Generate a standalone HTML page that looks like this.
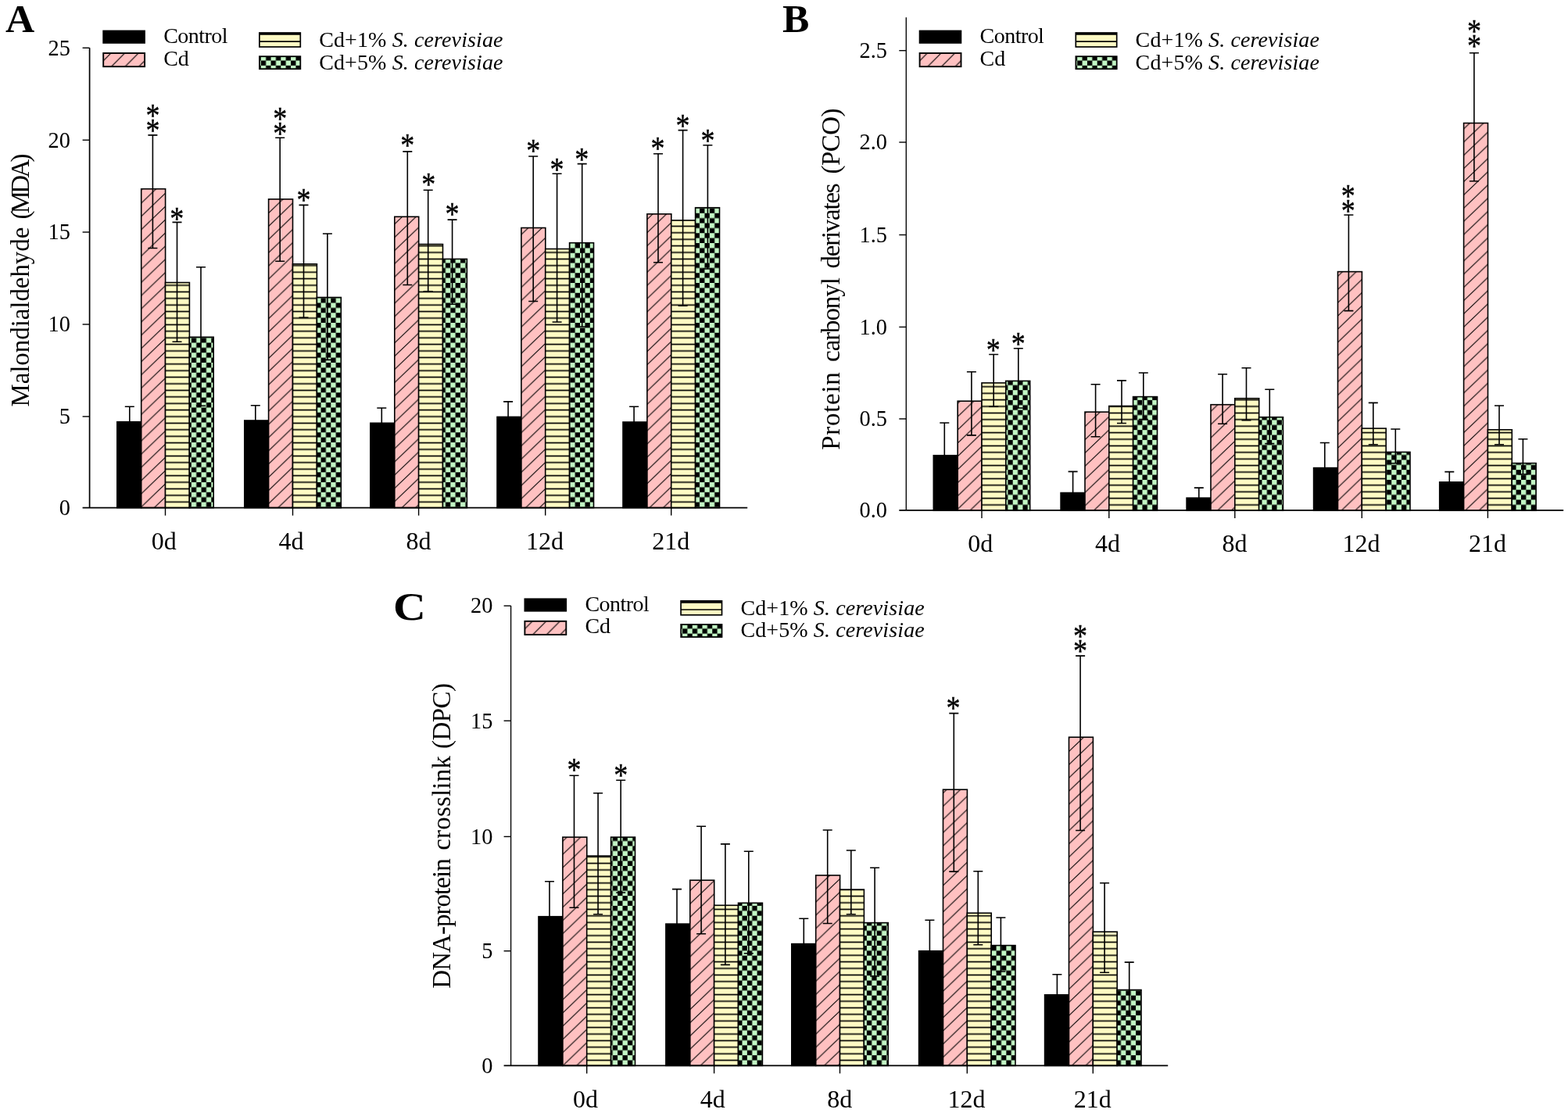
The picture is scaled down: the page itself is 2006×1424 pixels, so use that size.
<!DOCTYPE html>
<html lang="en"><head><meta charset="utf-8"><title>Oxidative damage markers: MDA, PCO and DPC</title>
<style>html,body{margin:0;padding:0;background:#fff}body{width:2006px;height:1424px}svg{display:block}text{font-family:'Liberation Serif', 'DejaVu Serif', serif;fill:#000}</style>
</head><body>
<svg width="2006" height="1424" viewBox="0 0 2006 1424">
<defs>
<pattern id="hpA" patternUnits="userSpaceOnUse" width="17.6" height="16.9" x="5.60" y="5.60"><path d="M-17.60 16.90L35.20 -33.80M-17.60 33.80L35.20 -16.90M-17.60 50.70L35.20 0.00" stroke="#000" stroke-width="1.05" fill="none"/></pattern>
<pattern id="hyA" patternUnits="userSpaceOnUse" width="8.4" height="8.4" x="0" y="8.00"><path d="M-1 4.20H9.40" stroke="#000" stroke-width="1.7" fill="none"/></pattern>
<pattern id="hgA" patternUnits="userSpaceOnUse" width="12.75" height="12.75" x="2.55" y="5.00"><rect x="0" y="0" width="6.375" height="6.375" fill="#C3F7C5"/><rect x="6.375" y="6.375" width="6.375" height="6.375" fill="#C3F7C5"/></pattern>
<pattern id="hplA" patternUnits="userSpaceOnUse" width="17.6" height="17.6" x="2.20" y="14.20"><path d="M-17.60 17.60L35.20 -35.20M-17.60 35.20L35.20 -17.60M-17.60 52.80L35.20 0.00" stroke="#000" stroke-width="1.2" fill="none"/></pattern>
<pattern id="hglA" patternUnits="userSpaceOnUse" width="12.75" height="12.75" x="2.30" y="7.35"><rect x="0" y="0" width="6.375" height="6.375" fill="#C3F7C5"/><rect x="6.375" y="6.375" width="6.375" height="6.375" fill="#C3F7C5"/></pattern>
<pattern id="hpB" patternUnits="userSpaceOnUse" width="17.6" height="16.9" x="8.60" y="11.30"><path d="M-17.60 16.90L35.20 -33.80M-17.60 33.80L35.20 -16.90M-17.60 50.70L35.20 0.00" stroke="#000" stroke-width="1.05" fill="none"/></pattern>
<pattern id="hyB" patternUnits="userSpaceOnUse" width="8.4" height="8.4" x="0" y="3.40"><path d="M-1 4.20H9.40" stroke="#000" stroke-width="1.7" fill="none"/></pattern>
<pattern id="hgB" patternUnits="userSpaceOnUse" width="12.75" height="12.75" x="7.95" y="1.90"><rect x="0" y="0" width="6.375" height="6.375" fill="#C3F7C5"/><rect x="6.375" y="6.375" width="6.375" height="6.375" fill="#C3F7C5"/></pattern>
<pattern id="hplB" patternUnits="userSpaceOnUse" width="17.6" height="17.6" x="8.20" y="14.20"><path d="M-17.60 17.60L35.20 -35.20M-17.60 35.20L35.20 -17.60M-17.60 52.80L35.20 0.00" stroke="#000" stroke-width="1.2" fill="none"/></pattern>
<pattern id="hglB" patternUnits="userSpaceOnUse" width="12.75" height="12.75" x="1.20" y="7.35"><rect x="0" y="0" width="6.375" height="6.375" fill="#C3F7C5"/><rect x="6.375" y="6.375" width="6.375" height="6.375" fill="#C3F7C5"/></pattern>
<pattern id="hpC" patternUnits="userSpaceOnUse" width="17.6" height="16.9" x="16.90" y="10.60"><path d="M-17.60 16.90L35.20 -33.80M-17.60 33.80L35.20 -16.90M-17.60 50.70L35.20 0.00" stroke="#000" stroke-width="1.05" fill="none"/></pattern>
<pattern id="hyC" patternUnits="userSpaceOnUse" width="8.4" height="8.4" x="0" y="8.40"><path d="M-1 4.20H9.40" stroke="#000" stroke-width="1.7" fill="none"/></pattern>
<pattern id="hgC" patternUnits="userSpaceOnUse" width="12.75" height="12.75" x="12.35" y="11.40"><rect x="0" y="0" width="6.375" height="6.375" fill="#C3F7C5"/><rect x="6.375" y="6.375" width="6.375" height="6.375" fill="#C3F7C5"/></pattern>
<pattern id="hplC" patternUnits="userSpaceOnUse" width="17.6" height="17.6" x="13.40" y="1.80"><path d="M-17.60 17.60L35.20 -35.20M-17.60 35.20L35.20 -17.60M-17.60 52.80L35.20 0.00" stroke="#000" stroke-width="1.2" fill="none"/></pattern>
<pattern id="hglC" patternUnits="userSpaceOnUse" width="12.75" height="12.75" x="6.00" y="7.40"><rect x="0" y="0" width="6.375" height="6.375" fill="#C3F7C5"/><rect x="6.375" y="6.375" width="6.375" height="6.375" fill="#C3F7C5"/></pattern>
</defs>
<rect width="2006" height="1424" fill="#fff"/>
<g id="panelA">
<rect x="149.8" y="539.7" width="30.9" height="109.9" fill="#000" stroke="#000" stroke-width="1.6"/>
<rect x="180.7" y="241.7" width="30.9" height="407.9" fill="#FFC1C1"/>
<rect x="180.7" y="241.7" width="30.9" height="407.9" fill="url(#hpA)" stroke="#000" stroke-width="1.6"/>
<rect x="211.5" y="361.5" width="30.9" height="288.1" fill="#FFFBC4"/>
<rect x="211.5" y="361.5" width="30.9" height="288.1" fill="url(#hyA)" stroke="#000" stroke-width="1.6"/>
<rect x="242.3" y="431.3" width="30.9" height="218.3" fill="#000"/>
<rect x="242.3" y="431.3" width="30.9" height="218.3" fill="url(#hgA)" stroke="#000" stroke-width="1.6"/>
<rect x="312.8" y="538.0" width="30.9" height="111.6" fill="#000" stroke="#000" stroke-width="1.6"/>
<rect x="343.6" y="254.8" width="30.9" height="394.8" fill="#FFC1C1"/>
<rect x="343.6" y="254.8" width="30.9" height="394.8" fill="url(#hpA)" stroke="#000" stroke-width="1.6"/>
<rect x="374.5" y="337.8" width="30.9" height="311.8" fill="#FFFBC4"/>
<rect x="374.5" y="337.8" width="30.9" height="311.8" fill="url(#hyA)" stroke="#000" stroke-width="1.6"/>
<rect x="405.4" y="380.5" width="30.9" height="269.1" fill="#000"/>
<rect x="405.4" y="380.5" width="30.9" height="269.1" fill="url(#hgA)" stroke="#000" stroke-width="1.6"/>
<rect x="473.9" y="541.3" width="30.9" height="108.3" fill="#000" stroke="#000" stroke-width="1.6"/>
<rect x="504.8" y="277.3" width="30.9" height="372.3" fill="#FFC1C1"/>
<rect x="504.8" y="277.3" width="30.9" height="372.3" fill="url(#hpA)" stroke="#000" stroke-width="1.6"/>
<rect x="535.6" y="312.5" width="30.9" height="337.1" fill="#FFFBC4"/>
<rect x="535.6" y="312.5" width="30.9" height="337.1" fill="url(#hyA)" stroke="#000" stroke-width="1.6"/>
<rect x="566.5" y="331.4" width="30.9" height="318.2" fill="#000"/>
<rect x="566.5" y="331.4" width="30.9" height="318.2" fill="url(#hgA)" stroke="#000" stroke-width="1.6"/>
<rect x="636.0" y="533.4" width="30.9" height="116.2" fill="#000" stroke="#000" stroke-width="1.6"/>
<rect x="666.9" y="291.5" width="30.9" height="358.1" fill="#FFC1C1"/>
<rect x="666.9" y="291.5" width="30.9" height="358.1" fill="url(#hpA)" stroke="#000" stroke-width="1.6"/>
<rect x="697.7" y="318.5" width="30.9" height="331.1" fill="#FFFBC4"/>
<rect x="697.7" y="318.5" width="30.9" height="331.1" fill="url(#hyA)" stroke="#000" stroke-width="1.6"/>
<rect x="728.6" y="310.7" width="30.9" height="338.9" fill="#000"/>
<rect x="728.6" y="310.7" width="30.9" height="338.9" fill="url(#hgA)" stroke="#000" stroke-width="1.6"/>
<rect x="797.0" y="540.0" width="30.9" height="109.6" fill="#000" stroke="#000" stroke-width="1.6"/>
<rect x="827.9" y="273.8" width="30.9" height="375.8" fill="#FFC1C1"/>
<rect x="827.9" y="273.8" width="30.9" height="375.8" fill="url(#hpA)" stroke="#000" stroke-width="1.6"/>
<rect x="858.7" y="281.9" width="30.9" height="367.7" fill="#FFFBC4"/>
<rect x="858.7" y="281.9" width="30.9" height="367.7" fill="url(#hyA)" stroke="#000" stroke-width="1.6"/>
<rect x="889.6" y="265.7" width="30.9" height="383.9" fill="#000"/>
<rect x="889.6" y="265.7" width="30.9" height="383.9" fill="url(#hgA)" stroke="#000" stroke-width="1.6"/>
<path d="M165.8 520.2V557.6M159.8 520.2H171.8M159.8 557.6H171.8" stroke="#000" stroke-width="1.6" fill="none"/>
<path d="M195.4 172.9V317.5M189.4 172.9H201.4M189.4 317.5H201.4" stroke="#000" stroke-width="1.6" fill="none"/>
<text transform="translate(195.4 142.4) scale(1 1.17)" x="0" y="16.97" font-size="36" stroke="#000" stroke-width="0.35" text-anchor="middle">*</text>
<text transform="translate(195.4 161.3) scale(1 1.17)" x="0" y="16.97" font-size="36" stroke="#000" stroke-width="0.35" text-anchor="middle">*</text>
<path d="M226.5 284.4V437.3M220.5 284.4H232.5M220.5 437.3H232.5" stroke="#000" stroke-width="1.6" fill="none"/>
<text transform="translate(226.2 273.8) scale(1 1.17)" x="0" y="16.97" font-size="36" stroke="#000" stroke-width="0.35" text-anchor="middle">*</text>
<path d="M257.0 341.8V519.2M251.0 341.8H263.0M251.0 519.2H263.0" stroke="#000" stroke-width="1.6" fill="none"/>
<path d="M326.8 518.7V555.7M320.8 518.7H332.8M320.8 555.7H332.8" stroke="#000" stroke-width="1.6" fill="none"/>
<path d="M358.2 176.2V334.2M352.2 176.2H364.2M352.2 334.2H364.2" stroke="#000" stroke-width="1.6" fill="none"/>
<text transform="translate(358.2 146.1) scale(1 1.17)" x="0" y="16.97" font-size="36" stroke="#000" stroke-width="0.35" text-anchor="middle">*</text>
<text transform="translate(358.2 165.6) scale(1 1.17)" x="0" y="16.97" font-size="36" stroke="#000" stroke-width="0.35" text-anchor="middle">*</text>
<path d="M388.5 262.4V406.2M382.5 262.4H394.5M382.5 406.2H394.5" stroke="#000" stroke-width="1.6" fill="none"/>
<text transform="translate(388.5 250.3) scale(1 1.17)" x="0" y="16.97" font-size="36" stroke="#000" stroke-width="0.35" text-anchor="middle">*</text>
<path d="M418.9 299.0V460.4M412.9 299.0H424.9M412.9 460.4H424.9" stroke="#000" stroke-width="1.6" fill="none"/>
<path d="M488.3 522.0V559.0M482.3 522.0H494.3M482.3 559.0H494.3" stroke="#000" stroke-width="1.6" fill="none"/>
<path d="M521.3 193.9V364.5M515.3 193.9H527.3M515.3 364.5H527.3" stroke="#000" stroke-width="1.6" fill="none"/>
<text transform="translate(521.2 180.5) scale(1 1.17)" x="0" y="16.97" font-size="36" stroke="#000" stroke-width="0.35" text-anchor="middle">*</text>
<path d="M547.7 243.2V372.9M541.7 243.2H553.7M541.7 372.9H553.7" stroke="#000" stroke-width="1.6" fill="none"/>
<text transform="translate(548.3 230.5) scale(1 1.17)" x="0" y="16.97" font-size="36" stroke="#000" stroke-width="0.35" text-anchor="middle">*</text>
<path d="M578.6 281.1V389.3M572.6 281.1H584.6M572.6 389.3H584.6" stroke="#000" stroke-width="1.6" fill="none"/>
<text transform="translate(578.6 268.5) scale(1 1.17)" x="0" y="16.97" font-size="36" stroke="#000" stroke-width="0.35" text-anchor="middle">*</text>
<path d="M650.1 513.9V551.3M644.1 513.9H656.1M644.1 551.3H656.1" stroke="#000" stroke-width="1.6" fill="none"/>
<path d="M682.2 200.0V385.5M676.2 200.0H688.2M676.2 385.5H688.2" stroke="#000" stroke-width="1.6" fill="none"/>
<text transform="translate(682.2 187.1) scale(1 1.17)" x="0" y="16.97" font-size="36" stroke="#000" stroke-width="0.35" text-anchor="middle">*</text>
<path d="M712.6 222.2V412.0M706.6 222.2H718.6M706.6 412.0H718.6" stroke="#000" stroke-width="1.6" fill="none"/>
<text transform="translate(712.6 211.1) scale(1 1.17)" x="0" y="16.97" font-size="36" stroke="#000" stroke-width="0.35" text-anchor="middle">*</text>
<path d="M744.7 209.6V418.0M738.7 209.6H750.7M738.7 418.0H750.7" stroke="#000" stroke-width="1.6" fill="none"/>
<text transform="translate(744.2 198.4) scale(1 1.17)" x="0" y="16.97" font-size="36" stroke="#000" stroke-width="0.35" text-anchor="middle">*</text>
<path d="M811.1 520.2V558.2M805.1 520.2H817.1M805.1 558.2H817.1" stroke="#000" stroke-width="1.6" fill="none"/>
<path d="M842.0 196.7V335.7M836.0 196.7H848.0M836.0 335.7H848.0" stroke="#000" stroke-width="1.6" fill="none"/>
<text transform="translate(841.5 183.8) scale(1 1.17)" x="0" y="16.97" font-size="36" stroke="#000" stroke-width="0.35" text-anchor="middle">*</text>
<path d="M873.6 166.6V391.3M867.6 166.6H879.6M867.6 391.3H879.6" stroke="#000" stroke-width="1.6" fill="none"/>
<text transform="translate(873.6 154.7) scale(1 1.17)" x="0" y="16.97" font-size="36" stroke="#000" stroke-width="0.35" text-anchor="middle">*</text>
<path d="M905.4 185.8V344.0M899.4 185.8H911.4M899.4 344.0H911.4" stroke="#000" stroke-width="1.6" fill="none"/>
<text transform="translate(905.4 174.4) scale(1 1.17)" x="0" y="16.97" font-size="36" stroke="#000" stroke-width="0.35" text-anchor="middle">*</text>
<path d="M114.6 61.3V649.6" stroke="#000" stroke-width="1.7" fill="none"/>
<path d="M105.6 649.6H956.2" stroke="#000" stroke-width="1.7" fill="none"/>
<path d="M105.6 61.3H114.6" stroke="#000" stroke-width="1.4" fill="none"/>
<text transform="translate(90.0 70.6) scale(1 1.02)" font-size="28.4" text-anchor="end">25</text>
<path d="M105.6 179.2H114.6" stroke="#000" stroke-width="1.4" fill="none"/>
<text transform="translate(90.0 188.5) scale(1 1.02)" font-size="28.4" text-anchor="end">20</text>
<path d="M105.6 297.0H114.6" stroke="#000" stroke-width="1.4" fill="none"/>
<text transform="translate(90.0 306.3) scale(1 1.02)" font-size="28.4" text-anchor="end">15</text>
<path d="M105.6 415.0H114.6" stroke="#000" stroke-width="1.4" fill="none"/>
<text transform="translate(90.0 424.3) scale(1 1.02)" font-size="28.4" text-anchor="end">10</text>
<path d="M105.6 532.9H114.6" stroke="#000" stroke-width="1.4" fill="none"/>
<text transform="translate(90.0 542.2) scale(1 1.02)" font-size="28.4" text-anchor="end">5</text>
<text transform="translate(90.0 658.9) scale(1 1.02)" font-size="28.4" text-anchor="end">0</text>
<path d="M211.5 649.6V659.6" stroke="#000" stroke-width="1.4" fill="none"/>
<text x="209.8" y="702.9" font-size="32" text-anchor="middle">0d</text>
<path d="M374.5 649.6V659.6" stroke="#000" stroke-width="1.4" fill="none"/>
<text x="372.6" y="702.9" font-size="32" text-anchor="middle">4d</text>
<path d="M535.6 649.6V659.6" stroke="#000" stroke-width="1.4" fill="none"/>
<text x="535.4" y="702.9" font-size="32" text-anchor="middle">8d</text>
<path d="M697.7 649.6V659.6" stroke="#000" stroke-width="1.4" fill="none"/>
<text x="697.0" y="702.9" font-size="32" text-anchor="middle">12d</text>
<path d="M858.7 649.6V659.6" stroke="#000" stroke-width="1.4" fill="none"/>
<text x="858.2" y="702.9" font-size="32" text-anchor="middle">21d</text>
<text transform="translate(36.7 520.0) rotate(-90)" font-size="33"><tspan x="-0.6" textLength="230.0" lengthAdjust="spacing">Malondialdehyde</tspan> <tspan x="239.6" textLength="83.9" lengthAdjust="spacing">(MDA)</tspan></text>
<text x="7.0" y="41.3" font-size="51.5" font-weight="bold">A</text>
<rect x="131.3" y="38.6" width="54.6" height="17.2" fill="#000"/>
<rect x="132.2" y="68.0" width="52.9" height="17.2" fill="#FFC1C1"/>
<rect x="132.2" y="68.0" width="52.9" height="17.2" fill="url(#hplA)" stroke="#000" stroke-width="1.9"/>
<rect x="331.9" y="42.0" width="52.4" height="18" fill="#FFFBC4" stroke="#000" stroke-width="1.7"/>
<path d="M331.9 43.5h52.4" stroke="#000" stroke-width="2.7"/>
<path d="M331.9 53.2h52.4" stroke="#000" stroke-width="1.7"/>
<rect x="332.0" y="72.2" width="52.3" height="16" fill="#000"/>
<rect x="332.0" y="72.2" width="52.3" height="16" fill="url(#hglA)" stroke="#000" stroke-width="1.8"/>
<text x="209.2" y="54.9" font-size="28" textLength="82.3" lengthAdjust="spacing">Control</text>
<text x="209.2" y="83.6" font-size="28">Cd</text>
<text x="408.2" y="60.1" font-size="28" textLength="235.3" lengthAdjust="spacing">Cd+1% <tspan font-style="italic">S. cerevisiae</tspan></text>
<text x="408.2" y="88.6" font-size="28" textLength="235.3" lengthAdjust="spacing">Cd+5% <tspan font-style="italic">S. cerevisiae</tspan></text>
</g>
<g id="panelB">
<rect x="1194.3" y="582.7" width="30.9" height="70.2" fill="#000" stroke="#000" stroke-width="1.6"/>
<rect x="1225.2" y="513.2" width="30.9" height="139.7" fill="#FFC1C1"/>
<rect x="1225.2" y="513.2" width="30.9" height="139.7" fill="url(#hpB)" stroke="#000" stroke-width="1.6"/>
<rect x="1256.0" y="489.9" width="30.9" height="163.0" fill="#FFFBC4"/>
<rect x="1256.0" y="489.9" width="30.9" height="163.0" fill="url(#hyB)" stroke="#000" stroke-width="1.6"/>
<rect x="1286.8" y="487.4" width="30.9" height="165.5" fill="#000"/>
<rect x="1286.8" y="487.4" width="30.9" height="165.5" fill="url(#hgB)" stroke="#000" stroke-width="1.6"/>
<rect x="1357.1" y="630.5" width="30.9" height="22.4" fill="#000" stroke="#000" stroke-width="1.6"/>
<rect x="1388.0" y="527.1" width="30.9" height="125.8" fill="#FFC1C1"/>
<rect x="1388.0" y="527.1" width="30.9" height="125.8" fill="url(#hpB)" stroke="#000" stroke-width="1.6"/>
<rect x="1418.8" y="519.5" width="30.9" height="133.4" fill="#FFFBC4"/>
<rect x="1418.8" y="519.5" width="30.9" height="133.4" fill="url(#hyB)" stroke="#000" stroke-width="1.6"/>
<rect x="1449.6" y="507.6" width="30.9" height="145.3" fill="#000"/>
<rect x="1449.6" y="507.6" width="30.9" height="145.3" fill="url(#hgB)" stroke="#000" stroke-width="1.6"/>
<rect x="1518.1" y="637.1" width="30.9" height="15.8" fill="#000" stroke="#000" stroke-width="1.6"/>
<rect x="1549.0" y="517.7" width="30.9" height="135.2" fill="#FFC1C1"/>
<rect x="1549.0" y="517.7" width="30.9" height="135.2" fill="url(#hpB)" stroke="#000" stroke-width="1.6"/>
<rect x="1579.8" y="509.7" width="30.9" height="143.2" fill="#FFFBC4"/>
<rect x="1579.8" y="509.7" width="30.9" height="143.2" fill="url(#hyB)" stroke="#000" stroke-width="1.6"/>
<rect x="1610.6" y="533.7" width="30.9" height="119.2" fill="#000"/>
<rect x="1610.6" y="533.7" width="30.9" height="119.2" fill="url(#hgB)" stroke="#000" stroke-width="1.6"/>
<rect x="1680.6" y="598.6" width="30.9" height="54.3" fill="#000" stroke="#000" stroke-width="1.6"/>
<rect x="1711.5" y="347.6" width="30.9" height="305.3" fill="#FFC1C1"/>
<rect x="1711.5" y="347.6" width="30.9" height="305.3" fill="url(#hpB)" stroke="#000" stroke-width="1.6"/>
<rect x="1742.3" y="548.1" width="30.9" height="104.8" fill="#FFFBC4"/>
<rect x="1742.3" y="548.1" width="30.9" height="104.8" fill="url(#hyB)" stroke="#000" stroke-width="1.6"/>
<rect x="1773.1" y="578.4" width="30.9" height="74.5" fill="#000"/>
<rect x="1773.1" y="578.4" width="30.9" height="74.5" fill="url(#hgB)" stroke="#000" stroke-width="1.6"/>
<rect x="1841.7" y="616.8" width="30.9" height="36.1" fill="#000" stroke="#000" stroke-width="1.6"/>
<rect x="1872.6" y="157.5" width="30.9" height="495.4" fill="#FFC1C1"/>
<rect x="1872.6" y="157.5" width="30.9" height="495.4" fill="url(#hpB)" stroke="#000" stroke-width="1.6"/>
<rect x="1903.4" y="549.8" width="30.9" height="103.1" fill="#FFFBC4"/>
<rect x="1903.4" y="549.8" width="30.9" height="103.1" fill="url(#hyB)" stroke="#000" stroke-width="1.6"/>
<rect x="1934.2" y="592.6" width="30.9" height="60.3" fill="#000"/>
<rect x="1934.2" y="592.6" width="30.9" height="60.3" fill="url(#hgB)" stroke="#000" stroke-width="1.6"/>
<path d="M1208.3 541.0V622.8M1202.3 541.0H1214.3M1202.3 622.8H1214.3" stroke="#000" stroke-width="1.6" fill="none"/>
<path d="M1242.9 475.7V556.9M1236.9 475.7H1248.9M1236.9 556.9H1248.9" stroke="#000" stroke-width="1.6" fill="none"/>
<path d="M1271.2 453.5V520.2M1265.2 453.5H1277.2M1265.2 520.2H1277.2" stroke="#000" stroke-width="1.6" fill="none"/>
<text transform="translate(1270.7 442.4) scale(1 1.17)" x="0" y="16.97" font-size="36" stroke="#000" stroke-width="0.35" text-anchor="middle">*</text>
<path d="M1302.8 445.7V522.0M1296.8 445.7H1308.8M1296.8 522.0H1308.8" stroke="#000" stroke-width="1.6" fill="none"/>
<text transform="translate(1302.8 434.3) scale(1 1.17)" x="0" y="16.97" font-size="36" stroke="#000" stroke-width="0.35" text-anchor="middle">*</text>
<path d="M1372.6 603.4V652.9M1366.6 603.4H1378.6M1366.6 652.9H1378.6" stroke="#000" stroke-width="1.6" fill="none"/>
<path d="M1401.6 491.7V558.7M1395.6 491.7H1407.6M1395.6 558.7H1407.6" stroke="#000" stroke-width="1.6" fill="none"/>
<path d="M1435.0 486.9V541.5M1429.0 486.9H1441.0M1429.0 541.5H1441.0" stroke="#000" stroke-width="1.6" fill="none"/>
<path d="M1462.8 477.0V536.6M1456.8 477.0H1468.8M1456.8 536.6H1468.8" stroke="#000" stroke-width="1.6" fill="none"/>
<path d="M1533.8 624.1V648.5M1527.8 624.1H1539.8M1527.8 648.5H1539.8" stroke="#000" stroke-width="1.6" fill="none"/>
<path d="M1564.1 478.8V542.2M1558.1 478.8H1570.1M1558.1 542.2H1570.1" stroke="#000" stroke-width="1.6" fill="none"/>
<path d="M1594.5 470.7V537.7M1588.5 470.7H1600.5M1588.5 537.7H1600.5" stroke="#000" stroke-width="1.6" fill="none"/>
<path d="M1624.3 498.2V567.6M1618.3 498.2H1630.3M1618.3 567.6H1630.3" stroke="#000" stroke-width="1.6" fill="none"/>
<path d="M1694.8 566.5V629.1M1688.8 566.5H1700.8M1688.8 629.1H1700.8" stroke="#000" stroke-width="1.6" fill="none"/>
<path d="M1725.4 275.0V397.6M1719.4 275.0H1731.4M1719.4 397.6H1731.4" stroke="#000" stroke-width="1.6" fill="none"/>
<text transform="translate(1724.7 244.7) scale(1 1.17)" x="0" y="16.97" font-size="36" stroke="#000" stroke-width="0.35" text-anchor="middle">*</text>
<text transform="translate(1724.7 264.2) scale(1 1.17)" x="0" y="16.97" font-size="36" stroke="#000" stroke-width="0.35" text-anchor="middle">*</text>
<path d="M1756.8 515.4V568.8M1750.8 515.4H1762.8M1750.8 568.8H1762.8" stroke="#000" stroke-width="1.6" fill="none"/>
<path d="M1785.3 549.0V592.8M1779.3 549.0H1791.3M1779.3 592.8H1791.3" stroke="#000" stroke-width="1.6" fill="none"/>
<path d="M1854.3 603.6V628.4M1848.3 603.6H1860.3M1848.3 628.4H1860.3" stroke="#000" stroke-width="1.6" fill="none"/>
<path d="M1885.9 67.7V231.8M1879.9 67.7H1891.9M1879.9 231.8H1891.9" stroke="#000" stroke-width="1.6" fill="none"/>
<text transform="translate(1885.9 34.1) scale(1 1.17)" x="0" y="16.97" font-size="36" stroke="#000" stroke-width="0.35" text-anchor="middle">*</text>
<text transform="translate(1885.9 53.6) scale(1 1.17)" x="0" y="16.97" font-size="36" stroke="#000" stroke-width="0.35" text-anchor="middle">*</text>
<path d="M1918.0 519.0V568.8M1912.0 519.0H1924.0M1912.0 568.8H1924.0" stroke="#000" stroke-width="1.6" fill="none"/>
<path d="M1948.4 561.7V606.7M1942.4 561.7H1954.4M1942.4 606.7H1954.4" stroke="#000" stroke-width="1.6" fill="none"/>
<path d="M1159.3 22.2V652.9" stroke="#000" stroke-width="1.35" fill="none"/>
<path d="M1150.3 652.9H2000.2" stroke="#000" stroke-width="1.7" fill="none"/>
<path d="M1150.3 64.7H1159.3" stroke="#000" stroke-width="1.4" fill="none"/>
<text transform="translate(1135.0 74.0) scale(1 1.02)" font-size="28.4" text-anchor="end">2.5</text>
<path d="M1150.3 182.0H1159.3" stroke="#000" stroke-width="1.4" fill="none"/>
<text transform="translate(1135.0 191.3) scale(1 1.02)" font-size="28.4" text-anchor="end">2.0</text>
<path d="M1150.3 300.5H1159.3" stroke="#000" stroke-width="1.4" fill="none"/>
<text transform="translate(1135.0 309.8) scale(1 1.02)" font-size="28.4" text-anchor="end">1.5</text>
<path d="M1150.3 418.4H1159.3" stroke="#000" stroke-width="1.4" fill="none"/>
<text transform="translate(1135.0 427.7) scale(1 1.02)" font-size="28.4" text-anchor="end">1.0</text>
<path d="M1150.3 535.9H1159.3" stroke="#000" stroke-width="1.4" fill="none"/>
<text transform="translate(1135.0 545.2) scale(1 1.02)" font-size="28.4" text-anchor="end">0.5</text>
<text transform="translate(1135.0 662.2) scale(1 1.02)" font-size="28.4" text-anchor="end">0.0</text>
<path d="M1256.0 652.9V662.9" stroke="#000" stroke-width="1.4" fill="none"/>
<text x="1254.3" y="706.2" font-size="32" text-anchor="middle">0d</text>
<path d="M1418.8 652.9V662.9" stroke="#000" stroke-width="1.4" fill="none"/>
<text x="1416.9" y="706.2" font-size="32" text-anchor="middle">4d</text>
<path d="M1579.8 652.9V662.9" stroke="#000" stroke-width="1.4" fill="none"/>
<text x="1579.6" y="706.2" font-size="32" text-anchor="middle">8d</text>
<path d="M1742.3 652.9V662.9" stroke="#000" stroke-width="1.4" fill="none"/>
<text x="1741.6" y="706.2" font-size="32" text-anchor="middle">12d</text>
<path d="M1903.4 652.9V662.9" stroke="#000" stroke-width="1.4" fill="none"/>
<text x="1902.9" y="706.2" font-size="32" text-anchor="middle">21d</text>
<text transform="translate(1074.4 575.2) rotate(-90)" font-size="33"><tspan x="-0.6" textLength="99.6" lengthAdjust="spacing">Protein</tspan> <tspan x="112.3" textLength="107.7" lengthAdjust="spacing">carbonyl</tspan> <tspan x="231.7" textLength="109.2" lengthAdjust="spacing">derivates</tspan> <tspan x="352.7" textLength="84.1" lengthAdjust="spacing">(PCO)</tspan></text>
<text x="1001.0" y="41.3" font-size="51.5" font-weight="bold">B</text>
<rect x="1175.7" y="38.6" width="54.6" height="17.2" fill="#000"/>
<rect x="1176.6" y="68.0" width="52.9" height="17.2" fill="#FFC1C1"/>
<rect x="1176.6" y="68.0" width="52.9" height="17.2" fill="url(#hplB)" stroke="#000" stroke-width="1.9"/>
<rect x="1376.3" y="42.0" width="52.4" height="18" fill="#FFFBC4" stroke="#000" stroke-width="1.7"/>
<path d="M1376.3 43.5h52.4" stroke="#000" stroke-width="2.7"/>
<path d="M1376.3 53.2h52.4" stroke="#000" stroke-width="1.7"/>
<rect x="1376.4" y="72.2" width="52.3" height="16" fill="#000"/>
<rect x="1376.4" y="72.2" width="52.3" height="16" fill="url(#hglB)" stroke="#000" stroke-width="1.8"/>
<text x="1253.6" y="54.9" font-size="28" textLength="82.3" lengthAdjust="spacing">Control</text>
<text x="1253.6" y="83.6" font-size="28">Cd</text>
<text x="1452.6" y="60.1" font-size="28" textLength="235.3" lengthAdjust="spacing">Cd+1% <tspan font-style="italic">S. cerevisiae</tspan></text>
<text x="1452.6" y="88.6" font-size="28" textLength="235.3" lengthAdjust="spacing">Cd+5% <tspan font-style="italic">S. cerevisiae</tspan></text>
</g>
<g id="panelC">
<rect x="689.0" y="1172.7" width="30.9" height="190.7" fill="#000" stroke="#000" stroke-width="1.6"/>
<rect x="719.9" y="1071.1" width="30.9" height="292.3" fill="#FFC1C1"/>
<rect x="719.9" y="1071.1" width="30.9" height="292.3" fill="url(#hpC)" stroke="#000" stroke-width="1.6"/>
<rect x="750.7" y="1095.1" width="30.9" height="268.3" fill="#FFFBC4"/>
<rect x="750.7" y="1095.1" width="30.9" height="268.3" fill="url(#hyC)" stroke="#000" stroke-width="1.6"/>
<rect x="781.6" y="1071.1" width="30.9" height="292.3" fill="#000"/>
<rect x="781.6" y="1071.1" width="30.9" height="292.3" fill="url(#hgC)" stroke="#000" stroke-width="1.6"/>
<rect x="851.9" y="1182.1" width="30.9" height="181.3" fill="#000" stroke="#000" stroke-width="1.6"/>
<rect x="882.8" y="1126.2" width="30.9" height="237.2" fill="#FFC1C1"/>
<rect x="882.8" y="1126.2" width="30.9" height="237.2" fill="url(#hpC)" stroke="#000" stroke-width="1.6"/>
<rect x="913.6" y="1158.3" width="30.9" height="205.1" fill="#FFFBC4"/>
<rect x="913.6" y="1158.3" width="30.9" height="205.1" fill="url(#hyC)" stroke="#000" stroke-width="1.6"/>
<rect x="944.5" y="1155.3" width="30.9" height="208.1" fill="#000"/>
<rect x="944.5" y="1155.3" width="30.9" height="208.1" fill="url(#hgC)" stroke="#000" stroke-width="1.6"/>
<rect x="1012.8" y="1207.6" width="30.9" height="155.8" fill="#000" stroke="#000" stroke-width="1.6"/>
<rect x="1043.7" y="1119.9" width="30.9" height="243.5" fill="#FFC1C1"/>
<rect x="1043.7" y="1119.9" width="30.9" height="243.5" fill="url(#hpC)" stroke="#000" stroke-width="1.6"/>
<rect x="1074.5" y="1138.1" width="30.9" height="225.3" fill="#FFFBC4"/>
<rect x="1074.5" y="1138.1" width="30.9" height="225.3" fill="url(#hyC)" stroke="#000" stroke-width="1.6"/>
<rect x="1105.3" y="1180.6" width="30.9" height="182.8" fill="#000"/>
<rect x="1105.3" y="1180.6" width="30.9" height="182.8" fill="url(#hgC)" stroke="#000" stroke-width="1.6"/>
<rect x="1175.6" y="1216.7" width="30.9" height="146.7" fill="#000" stroke="#000" stroke-width="1.6"/>
<rect x="1206.5" y="1010.2" width="30.9" height="353.2" fill="#FFC1C1"/>
<rect x="1206.5" y="1010.2" width="30.9" height="353.2" fill="url(#hpC)" stroke="#000" stroke-width="1.6"/>
<rect x="1237.3" y="1168.2" width="30.9" height="195.2" fill="#FFFBC4"/>
<rect x="1237.3" y="1168.2" width="30.9" height="195.2" fill="url(#hyC)" stroke="#000" stroke-width="1.6"/>
<rect x="1268.1" y="1209.6" width="30.9" height="153.8" fill="#000"/>
<rect x="1268.1" y="1209.6" width="30.9" height="153.8" fill="url(#hgC)" stroke="#000" stroke-width="1.6"/>
<rect x="1336.6" y="1272.8" width="30.9" height="90.6" fill="#000" stroke="#000" stroke-width="1.6"/>
<rect x="1367.5" y="943.2" width="30.9" height="420.2" fill="#FFC1C1"/>
<rect x="1367.5" y="943.2" width="30.9" height="420.2" fill="url(#hpC)" stroke="#000" stroke-width="1.6"/>
<rect x="1398.3" y="1192.2" width="30.9" height="171.2" fill="#FFFBC4"/>
<rect x="1398.3" y="1192.2" width="30.9" height="171.2" fill="url(#hyC)" stroke="#000" stroke-width="1.6"/>
<rect x="1429.1" y="1266.5" width="30.9" height="96.9" fill="#000"/>
<rect x="1429.1" y="1266.5" width="30.9" height="96.9" fill="url(#hgC)" stroke="#000" stroke-width="1.6"/>
<path d="M703.0 1127.7V1216.1M697.0 1127.7H709.0M697.0 1216.1H709.0" stroke="#000" stroke-width="1.6" fill="none"/>
<path d="M734.5 992.2V1161.3M728.5 992.2H740.5M728.5 1161.3H740.5" stroke="#000" stroke-width="1.6" fill="none"/>
<text transform="translate(734.5 979.6) scale(1 1.17)" x="0" y="16.97" font-size="36" stroke="#000" stroke-width="0.35" text-anchor="middle">*</text>
<path d="M765.1 1014.7V1169.7M759.1 1014.7H771.1M759.1 1169.7H771.1" stroke="#000" stroke-width="1.6" fill="none"/>
<path d="M794.2 998.3V1142.0M788.2 998.3H800.2M788.2 1142.0H800.2" stroke="#000" stroke-width="1.6" fill="none"/>
<text transform="translate(794.2 985.9) scale(1 1.17)" x="0" y="16.97" font-size="36" stroke="#000" stroke-width="0.35" text-anchor="middle">*</text>
<path d="M866.0 1137.6V1225.0M860.0 1137.6H872.0M860.0 1225.0H872.0" stroke="#000" stroke-width="1.6" fill="none"/>
<path d="M897.1 1057.2V1194.7M891.1 1057.2H903.1M891.1 1194.7H903.1" stroke="#000" stroke-width="1.6" fill="none"/>
<path d="M927.9 1079.9V1234.4M921.9 1079.9H933.9M921.9 1234.4H933.9" stroke="#000" stroke-width="1.6" fill="none"/>
<path d="M957.8 1089.3V1219.7M951.8 1089.3H963.8M951.8 1219.7H963.8" stroke="#000" stroke-width="1.6" fill="none"/>
<path d="M1028.3 1175.2V1238.4M1022.3 1175.2H1034.3M1022.3 1238.4H1034.3" stroke="#000" stroke-width="1.6" fill="none"/>
<path d="M1058.7 1062.0V1181.5M1052.7 1062.0H1064.7M1052.7 1181.5H1064.7" stroke="#000" stroke-width="1.6" fill="none"/>
<path d="M1088.8 1088.0V1169.7M1082.8 1088.0H1094.8M1082.8 1169.7H1094.8" stroke="#000" stroke-width="1.6" fill="none"/>
<path d="M1119.1 1110.3V1249.0M1113.1 1110.3H1125.1M1113.1 1249.0H1125.1" stroke="#000" stroke-width="1.6" fill="none"/>
<path d="M1189.4 1177.2V1254.6M1183.4 1177.2H1195.4M1183.4 1254.6H1195.4" stroke="#000" stroke-width="1.6" fill="none"/>
<path d="M1220.3 912.6V1115.1M1214.3 912.6H1226.3M1214.3 1115.1H1226.3" stroke="#000" stroke-width="1.6" fill="none"/>
<text transform="translate(1219.6 900.0) scale(1 1.17)" x="0" y="16.97" font-size="36" stroke="#000" stroke-width="0.35" text-anchor="middle">*</text>
<path d="M1251.3 1114.8V1208.8M1245.3 1114.8H1257.3M1245.3 1208.8H1257.3" stroke="#000" stroke-width="1.6" fill="none"/>
<path d="M1280.4 1174.0V1243.0M1274.4 1174.0H1286.4M1274.4 1243.0H1286.4" stroke="#000" stroke-width="1.6" fill="none"/>
<path d="M1352.4 1246.8V1297.2M1346.4 1246.8H1358.4M1346.4 1297.2H1358.4" stroke="#000" stroke-width="1.6" fill="none"/>
<path d="M1382.1 839.1V1062.5M1376.1 839.1H1388.1M1376.1 1062.5H1388.1" stroke="#000" stroke-width="1.6" fill="none"/>
<text transform="translate(1382.1 807.7) scale(1 1.17)" x="0" y="16.97" font-size="36" stroke="#000" stroke-width="0.35" text-anchor="middle">*</text>
<text transform="translate(1382.1 826.9) scale(1 1.17)" x="0" y="16.97" font-size="36" stroke="#000" stroke-width="0.35" text-anchor="middle">*</text>
<path d="M1413.1 1129.7V1244.2M1407.1 1129.7H1419.1M1407.1 1244.2H1419.1" stroke="#000" stroke-width="1.6" fill="none"/>
<path d="M1444.7 1231.1V1300.0M1438.7 1231.1H1450.7M1438.7 1300.0H1450.7" stroke="#000" stroke-width="1.6" fill="none"/>
<path d="M653.6 775.1V1363.4" stroke="#000" stroke-width="1.35" fill="none"/>
<path d="M644.6 1363.4H1494.2" stroke="#000" stroke-width="1.7" fill="none"/>
<path d="M644.6 775.1H653.6" stroke="#000" stroke-width="1.4" fill="none"/>
<text transform="translate(630.4 784.4) scale(1 1.02)" font-size="28.4" text-anchor="end">20</text>
<path d="M644.6 922.2H653.6" stroke="#000" stroke-width="1.4" fill="none"/>
<text transform="translate(630.4 931.5) scale(1 1.02)" font-size="28.4" text-anchor="end">15</text>
<path d="M644.6 1070.4H653.6" stroke="#000" stroke-width="1.4" fill="none"/>
<text transform="translate(630.4 1079.7) scale(1 1.02)" font-size="28.4" text-anchor="end">10</text>
<path d="M644.6 1216.7H653.6" stroke="#000" stroke-width="1.4" fill="none"/>
<text transform="translate(630.4 1226.0) scale(1 1.02)" font-size="28.4" text-anchor="end">5</text>
<text transform="translate(630.4 1372.7) scale(1 1.02)" font-size="28.4" text-anchor="end">0</text>
<path d="M750.7 1363.4V1373.4" stroke="#000" stroke-width="1.4" fill="none"/>
<text x="749.0" y="1416.7" font-size="32" text-anchor="middle">0d</text>
<path d="M913.6 1363.4V1373.4" stroke="#000" stroke-width="1.4" fill="none"/>
<text x="911.7" y="1416.7" font-size="32" text-anchor="middle">4d</text>
<path d="M1074.5 1363.4V1373.4" stroke="#000" stroke-width="1.4" fill="none"/>
<text x="1074.3" y="1416.7" font-size="32" text-anchor="middle">8d</text>
<path d="M1237.3 1363.4V1373.4" stroke="#000" stroke-width="1.4" fill="none"/>
<text x="1236.6" y="1416.7" font-size="32" text-anchor="middle">12d</text>
<path d="M1398.3 1363.4V1373.4" stroke="#000" stroke-width="1.4" fill="none"/>
<text x="1397.8" y="1416.7" font-size="32" text-anchor="middle">21d</text>
<text transform="translate(576.1 1264.1) rotate(-90)" font-size="33"><tspan x="-0.6" textLength="166.4" lengthAdjust="spacing">DNA-protein</tspan> <tspan x="176.4" textLength="120.6" lengthAdjust="spacing">crosslink</tspan> <tspan x="306.2" textLength="83.8" lengthAdjust="spacing">(DPC)</tspan></text>
<text x="503.0" y="792.7" font-size="51.5" font-weight="bold" textLength="41.8" lengthAdjust="spacingAndGlyphs">C</text>
<rect x="670.5" y="765.4" width="54.6" height="17.2" fill="#000"/>
<rect x="671.4" y="794.8" width="52.9" height="17.2" fill="#FFC1C1"/>
<rect x="671.4" y="794.8" width="52.9" height="17.2" fill="url(#hplC)" stroke="#000" stroke-width="1.9"/>
<rect x="871.1" y="768.8" width="52.4" height="18" fill="#FFFBC4" stroke="#000" stroke-width="1.7"/>
<path d="M871.1 770.3h52.4" stroke="#000" stroke-width="2.7"/>
<path d="M871.1 780.0h52.4" stroke="#000" stroke-width="1.7"/>
<rect x="871.2" y="799.0" width="52.3" height="16" fill="#000"/>
<rect x="871.2" y="799.0" width="52.3" height="16" fill="url(#hglC)" stroke="#000" stroke-width="1.8"/>
<text x="748.4" y="781.7" font-size="28" textLength="82.3" lengthAdjust="spacing">Control</text>
<text x="748.4" y="810.4" font-size="28">Cd</text>
<text x="947.4" y="786.9" font-size="28" textLength="235.3" lengthAdjust="spacing">Cd+1% <tspan font-style="italic">S. cerevisiae</tspan></text>
<text x="947.4" y="815.4" font-size="28" textLength="235.3" lengthAdjust="spacing">Cd+5% <tspan font-style="italic">S. cerevisiae</tspan></text>
</g>
</svg></body></html>
